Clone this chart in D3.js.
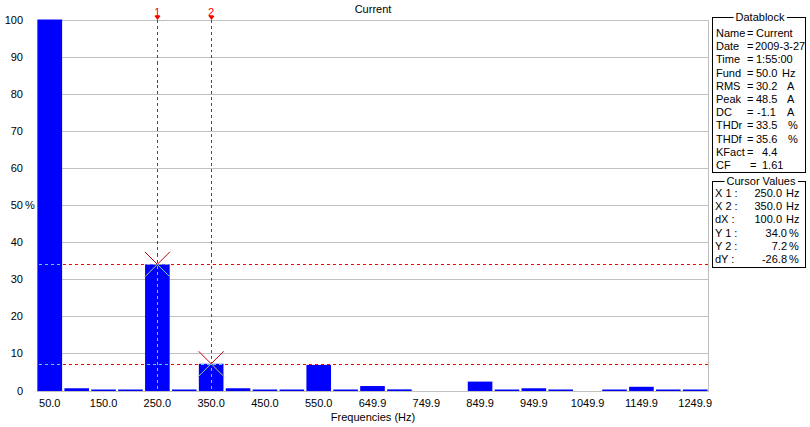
<!DOCTYPE html>
<html><head><meta charset="utf-8">
<script src="https://cdn.jsdelivr.net/npm/d3@7"></script>
<style>
body{margin:0;background:#fff;}
svg text{font-family:"Liberation Sans",Arial,sans-serif;font-size:11px;fill:#000;}
line{shape-rendering:crispEdges;}
</style></head>
<body><svg id="c" width="810" height="427"></svg>
<script>
// ---- data ----
const frequencies = ["50.0","100.0","150.0","200.0","250.0","300.0","350.0","400.0","450.0","500.0","550.0","600.0","649.9","699.9","749.9","799.9","849.9","899.9","949.9","999.9","1049.9","1099.9","1149.9","1199.9","1249.9"];
const percentValues = [100,0.6,0.2,0.2,34.0,0.2,7.2,0.6,0.2,0.2,6.9,0.2,1.2,0.3,0,0,2.4,0.2,0.6,0.2,0,0.2,1.0,0.2,0.2];
const xTickLabels = ["50.0","150.0","250.0","350.0","450.0","550.0","649.9","749.9","849.9","949.9","1049.9","1149.9","1249.9"];
const yTicks = [0,10,20,30,40,50,60,70,80,90,100];
const cursorNames = ["1","2"];
const cursorFreqs = ["250.0","350.0"];
const cursorValues = [34.0,7.2];
const dataLabels = ["Name","Date","Time","Fund","RMS","Peak","DC","THDr","THDf","KFact","CF"];
const dataValues = ["Current","2009-3-27","1:55:00","50.0","30.2","48.5","-1.1","33.5","35.6","4.4","1.61"];
const dataUnits = ["","","","Hz","A","A","A","%","%","",""];
const cursorLabels = ["X 1 :","X 2 :","dX :","Y 1 :","Y 2 :","dY :"];
const cursorNums = ["250.0","350.0","100.0","34.0","7.2","-26.8"];
const cursorUnits = ["Hz","Hz","Hz","%","%","%"];

const svg = d3.select("#c");
const L=37.5, R=707.5, T=19.5, B=390.5;
const x = d3.scaleBand().domain(frequencies).range([L,R]).paddingInner(0.085).paddingOuter(0);
const y = d3.scaleLinear().domain([0,100]).range([B,T]);

// grid
svg.append("g").selectAll("line").data(yTicks.filter(d=>d>0)).join("line")
  .attr("x1",L).attr("x2",R+1).attr("y1",d=>Math.round(y(d))+0.5).attr("y2",d=>Math.round(y(d))+0.5)
  .attr("stroke","#c0c0c0");
// frame
svg.append("line").attr("x1",L).attr("x2",L).attr("y1",T).attr("y2",B+1).attr("stroke","#c0c0c0");
svg.append("line").attr("x1",R+1).attr("x2",R+1).attr("y1",T).attr("y2",B+1).attr("stroke","#c0c0c0");
svg.append("line").attr("x1",L).attr("x2",R+1).attr("y1",B+1).attr("y2",B+1).attr("stroke","#c0c0c0");

// bars
const bars = frequencies.map((f,i)=>({f,v:percentValues[i]})).filter(d=>d.v>0);
svg.append("g").selectAll("rect").data(bars).join("rect")
  .attr("x",d=>x(d.f)).attr("width",x.bandwidth())
  .attr("y",d=>Math.min(y(d.v),B-1)).attr("height",d=>Math.max(B-y(d.v),1)+0.5)
  .attr("fill","#0000ff");
// clip for bars
const cp = svg.append("defs").append("clipPath").attr("id","barclip");
cp.selectAll("rect").data(bars).join("rect")
  .attr("x",d=>x(d.f)).attr("width",x.bandwidth())
  .attr("y",d=>y(d.v)).attr("height",d=>B-y(d.v));

// y labels
svg.append("g").selectAll("text").data(yTicks).join("text")
  .attr("x",23).attr("y",d=>y(d)+4).attr("text-anchor","end").text(d=>d);
svg.append("text").attr("x",25).attr("y",y(50)+4).text("%");

// x labels
svg.append("g").selectAll("text").data(xTickLabels).join("text")
  .attr("x",d=>x(d)+x.bandwidth()/2).attr("y",407).attr("text-anchor","middle").text(d=>d);
svg.append("text").attr("x",373).attr("y",421).attr("text-anchor","middle").text("Frequencies (Hz)");
svg.append("text").attr("x",373).attr("y",13).attr("text-anchor","middle").text("Current");

// cursors
const cur = cursorFreqs.map((f,i)=>({f,v:cursorValues[i],n:cursorNames[i]}));
function drawCursors(g,color,xcol){
  g.selectAll("line.v").data(cur).join("line").attr("class","v")
    .attr("x1",d=>Math.round(x(d.f)+x.bandwidth()/2)+0.5).attr("x2",d=>Math.round(x(d.f)+x.bandwidth()/2)+0.5)
    .attr("y1",T).attr("y2",B).attr("stroke",color).attr("stroke-dasharray","3,3");
  g.selectAll("line.h").data(cur).join("line").attr("class","h")
    .attr("x1",L+1).attr("x2",R+1).attr("y1",d=>Math.round(y(d.v))+0.5).attr("y2",d=>Math.round(y(d.v))+0.5)
    .attr("stroke",color).attr("stroke-dasharray","3,3");
  g.selectAll("path.x").data(cur).join("path").attr("class","x")
    .attr("d",d=>{const cx=x(d.f)+x.bandwidth()/2, cy=y(d.v), a=12.5;
      return `M${cx-a},${cy-a}L${cx+a},${cy+a}M${cx+a},${cy-a}L${cx-a},${cy+a}`;})
    .attr("stroke",xcol).attr("fill","none");
}
drawCursors(svg.append("g"),"#ff0000","#c00010");
drawCursors(svg.append("g").attr("clip-path","url(#barclip)"),"#60d0d0","#60d0d0");
// cursor labels
svg.append("g").selectAll("text").data(cur).join("text")
  .attr("x",d=>x(d.f)+x.bandwidth()/2).attr("y",16).attr("text-anchor","middle")
  .style("fill","#ff0000").style("font-size","11px").text(d=>d.n);
svg.append("g").selectAll("path").data(cur).join("path")
  .attr("d",d=>{const cx=Math.round(x(d.f)+x.bandwidth()/2)+0.5;return `M${cx-3},${16}L${cx+3},${16}L${cx},${20}Z`;})
  .attr("fill","#ff0000");

// boxes
function box(y0,h,title,tx){
  svg.append("rect").attr("x",712.5).attr("y",y0+0.5).attr("width",93).attr("height",h).attr("fill","none").attr("stroke","#000");
  const bg = svg.append("rect").attr("fill","#fff");
  const t = svg.append("text").attr("x",tx).attr("y",y0+4).attr("text-anchor","middle").text(title);
  const bb = t.node().getBBox();
  bg.attr("x",bb.x-2).attr("y",y0-2).attr("width",bb.width+4).attr("height",5);
}
box(17,155,"Datablock",760);
const dg = svg.append("g");
dataLabels.forEach((lab,i)=>{
  const yy = 37 + i*13.2;
  dg.append("text").attr("x",716).attr("y",yy).text(lab);
  const eqx = lab==="CF"?750:747;
  dg.append("text").attr("x",eqx).attr("y",yy).text("=");
  let vx = 756;
  if(lab==="KFact"||lab==="CF") vx=762;
  if(lab==="DC") vx=757;
  if(lab==="Date") vx=755;
  dg.append("text").attr("x",vx).attr("y",yy).text(dataValues[i]);
  if(dataUnits[i]) dg.append("text").attr("x",dataUnits[i]==="Hz"?782:(dataUnits[i]==="A"?787:788)).attr("y",yy).text(dataUnits[i]);
});
box(181,86,"Cursor Values",761);
const cg = svg.append("g");
cursorLabels.forEach((lab,i)=>{
  const yy = 197 + i*13.2;
  cg.append("text").attr("x",715).attr("y",yy).text(lab);
  const isHz = cursorUnits[i]==="Hz";
  cg.append("text").attr("x",isHz?782:787).attr("y",yy).attr("text-anchor","end").text(cursorNums[i]);
  cg.append("text").attr("x",isHz?786:789).attr("y",yy).text(cursorUnits[i]);
});
</script></body></html>
